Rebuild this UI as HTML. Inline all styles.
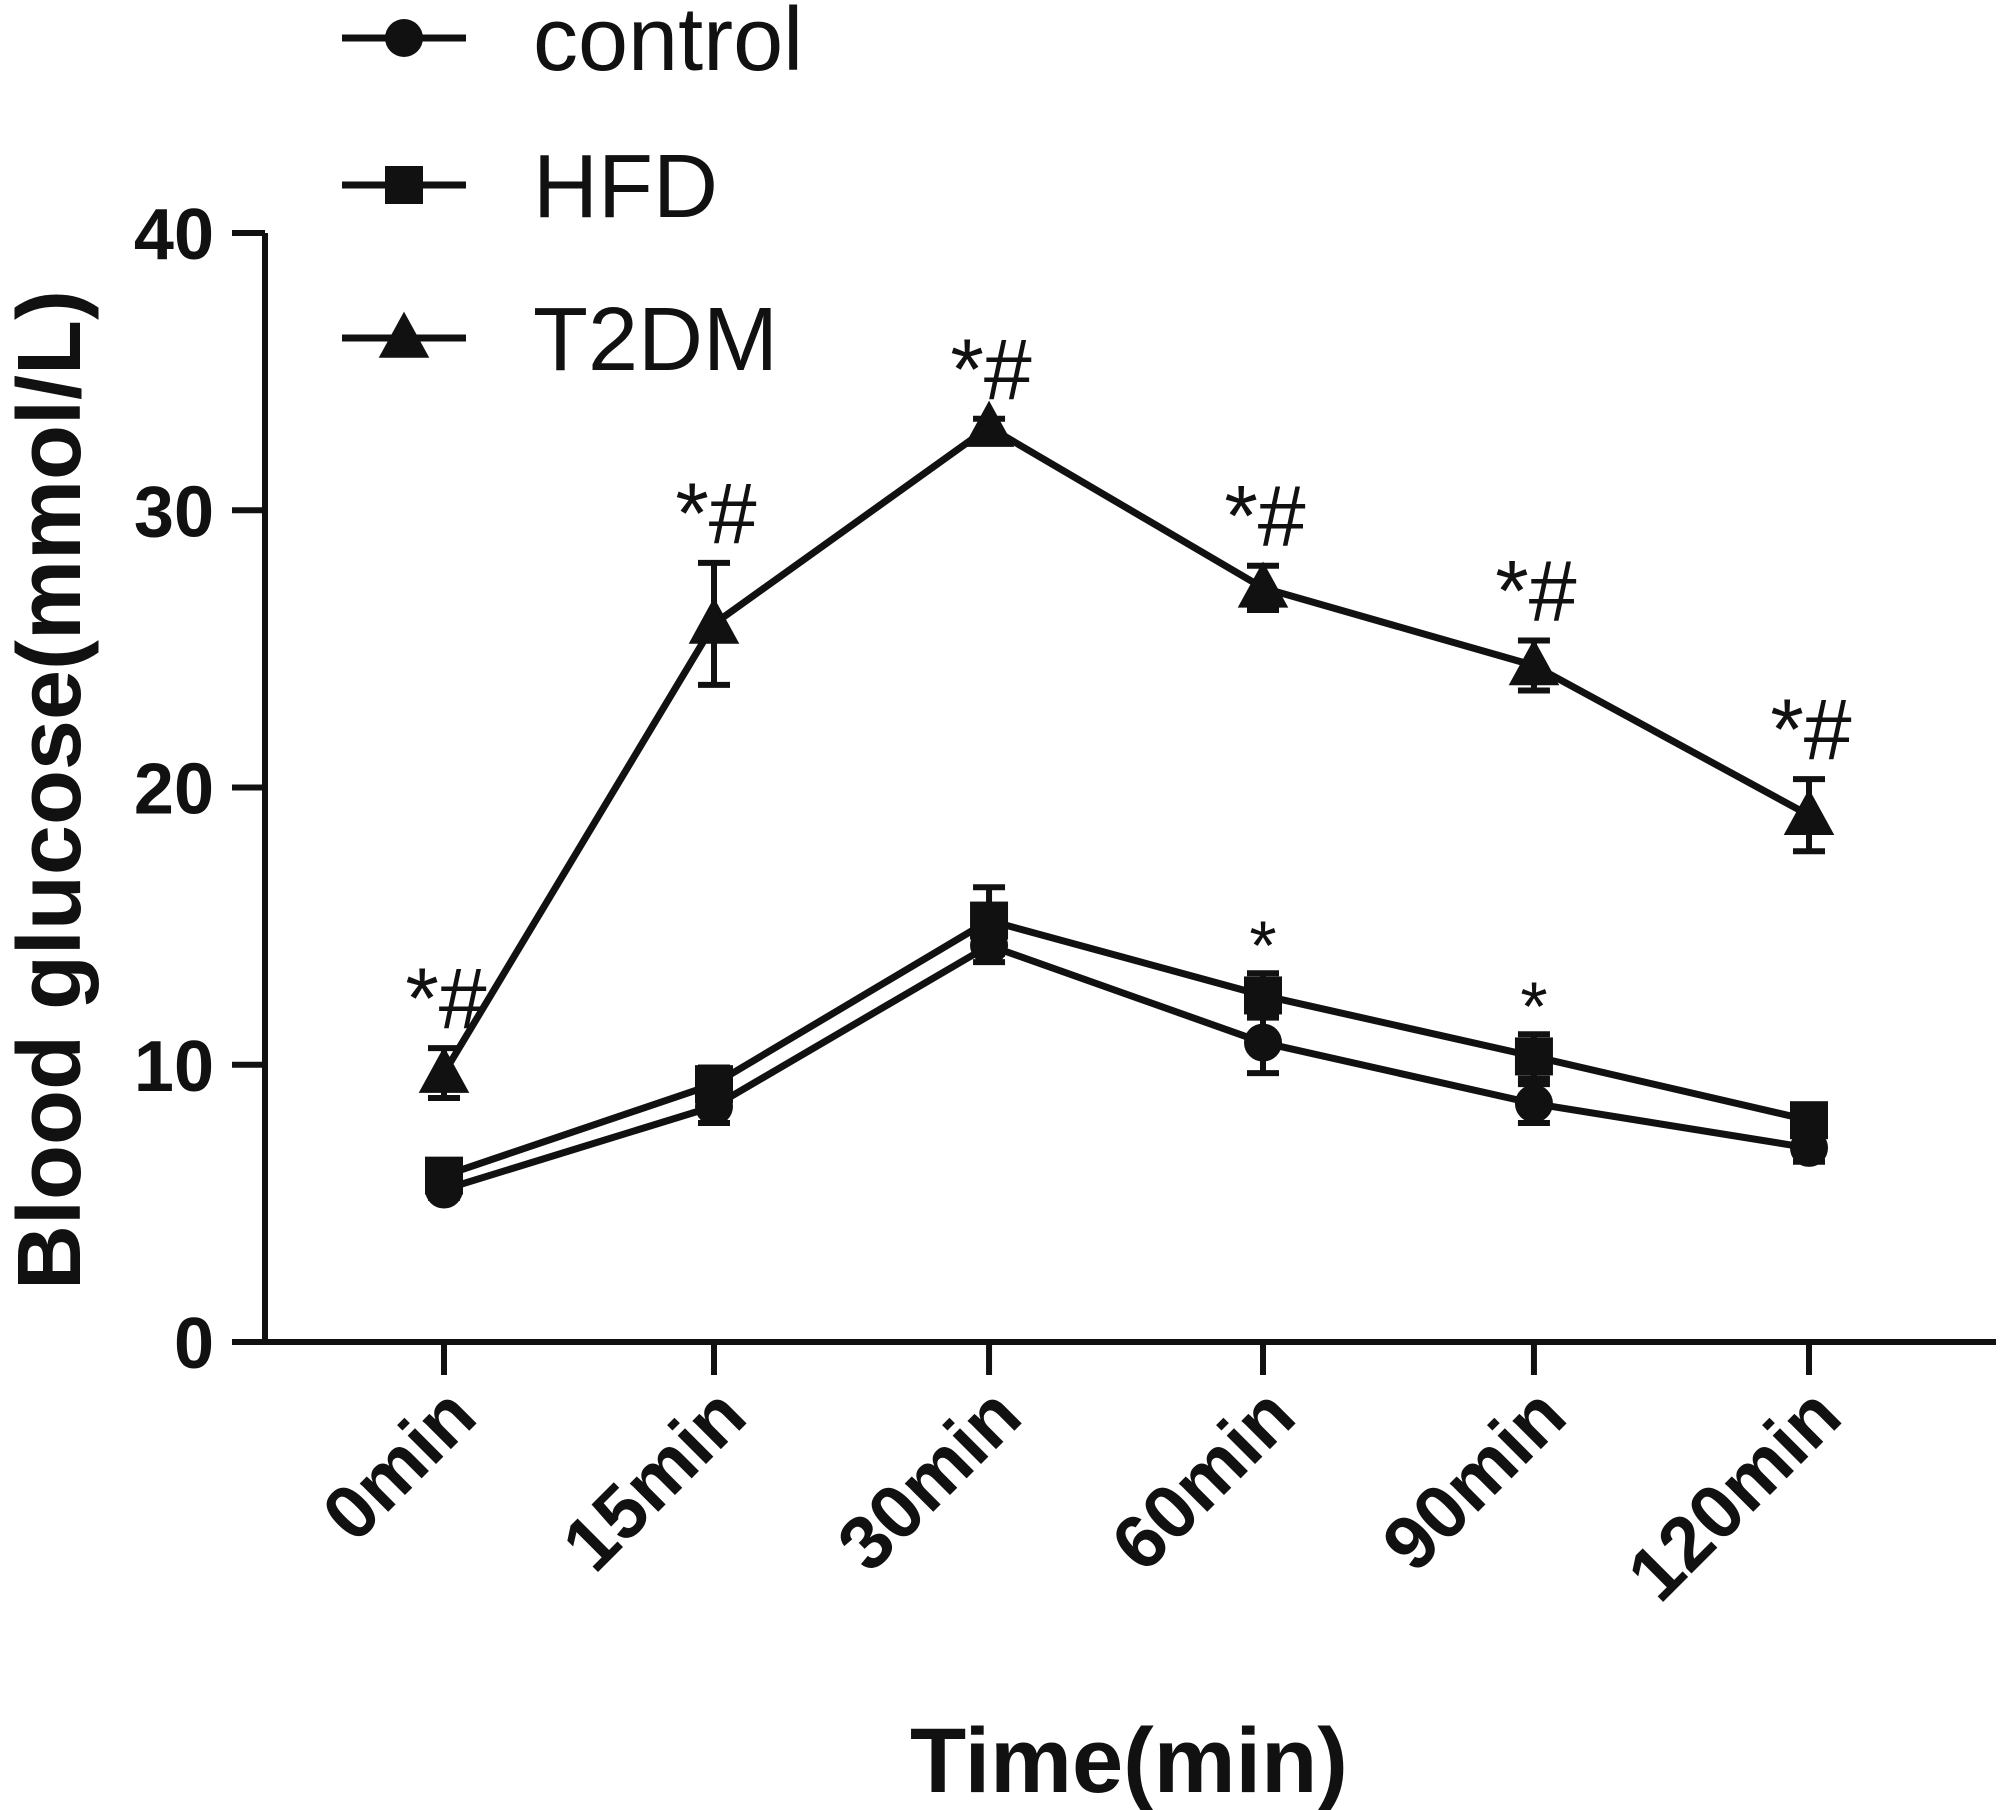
<!DOCTYPE html>
<html><head><meta charset="utf-8"><style>
html,body{margin:0;padding:0;background:#fff;}
svg{display:block;}
text{font-family:"Liberation Sans",Arial,sans-serif;fill:#111;}
</style></head><body>
<svg id="chart" width="2000" height="1810" viewBox="0 0 2000 1810" xmlns="http://www.w3.org/2000/svg">
<g id="axes"></g>
<g id="series"></g>
<g id="legend"></g>
<text x="1129" y="1792" font-size="92" font-weight="bold" text-anchor="middle">Time(min)</text>
<text transform="translate(80,790) rotate(-90)" font-size="90" font-weight="bold" text-anchor="middle">Blood glucose(mmol/L)</text>
</svg>
<script>
const categories=["0min","15min","30min","60min","90min","120min"];
const yTicks=[0,10,20,30,40];
const controlVals=[5.5,8.5,14.3,10.8,8.6,7.0];
const controlErr=[0.3,0.6,0.6,1.1,0.7,0.5];
const hfdVals=[6.0,9.3,15.2,12.5,10.3,8.0];
const hfdErr=[0.3,0.6,1.2,0.8,0.8,0.5];
const t2dmVals=[9.7,25.9,33.0,27.2,24.4,19.0];
const t2dmErr=[0.9,2.2,0.3,0.8,0.9,1.3];
const t2dmMarks=["*#","*#","*#","*#","*#","*#"];
const hfdMarks=["","","","*","*",""];

const NS="http://www.w3.org/2000/svg";
function xs(i){return 444+(1809-444)*[0,0.1978,0.3993,0.6,0.7985,1][i];}
function y(v){return 1342-v*(1342-233)/40;}
function mk(tag,attrs,parent){const e=document.createElementNS(NS,tag);for(const k in attrs)e.setAttribute(k,attrs[k]);parent.appendChild(e);return e;}
const axes=document.getElementById('axes');
const ser=document.getElementById('series');
const leg=document.getElementById('legend');

let e=mk('line',{x1:265,y1:y(40),x2:265,y2:1344,stroke:'#111','stroke-width':6},axes);


e=mk('line',{x1:232,y1:1342,x2:1996,y2:1342,stroke:'#111','stroke-width':6},axes);


yTicks.forEach(t=>{
  let l=mk('line',{x1:232,y1:y(t),x2:265,y2:y(t),stroke:'#111','stroke-width':6},axes);
  
  
  let tx=mk('text',{x:214,y:y(t)+26,'font-size':72,'font-weight':'bold','text-anchor':'end'},axes);
  tx.textContent=t;
  
  
});
categories.forEach((c,i)=>{
  const X=xs(i);
  let l=mk('line',{x1:X,y1:1342,x2:X,y2:1375,stroke:'#111','stroke-width':6},axes);
  
  
  let tx=mk('text',{x:X+36,y:1420,'font-size':76,'font-weight':'bold','text-anchor':'end',transform:`rotate(-45 ${X+36} 1420)`},axes);
  tx.textContent=c;
  
  
});

function marker(type,cx,cy,p,s){
  let m;
  if(type==='circle')m=mk('circle',{cx:cx,cy:cy,r:s,fill:'#111'},p);
  else if(type==='square')m=mk('rect',{x:cx-s,y:cy-s,width:2*s,height:2*s,fill:'#111'},p);
  else m=mk('polygon',{points:`${cx},${cy-s*1.2} ${cx-s*1.15},${cy+s*0.9} ${cx+s*1.15},${cy+s*0.9}`,fill:'#111'},p);
  return m;
}
function drawSeries(name,vals,err,type){
  const g=mk('g',{},ser);
  
  
  const pts=vals.map((v,i)=>xs(i)+','+y(v)).join(' ');
  const pl=mk('polyline',{points:pts,fill:'none',stroke:'#111','stroke-width':7},g);
  
  
  vals.forEach((v,i)=>{
    const X=xs(i),hi=y(v+err[i]),lo=y(v-err[i]);
    const eb=mk('path',{d:`M${X},${hi}V${lo}M${X-16},${hi}H${X+16}M${X-16},${lo}H${X+16}`,stroke:'#111','stroke-width':6,fill:'none'},g);
    
    
    const m=marker(type,X,y(v),g,type==='triangle'?22:19);
    
    
  });
}
drawSeries('control',controlVals,controlErr,'circle');
drawSeries('hfd',hfdVals,hfdErr,'square');
drawSeries('t2dm',t2dmVals,t2dmErr,'triangle');

t2dmMarks.forEach((s,i)=>{
  if(!s)return;
  const t=mk('text',{x:xs(i)+2,y:y(t2dmVals[i]+t2dmErr[i])-20,'font-size':86,'text-anchor':'middle'},ser);
  t.textContent=s;
  
  
});
hfdMarks.forEach((s,i)=>{
  if(!s)return;
  const t=mk('text',{x:xs(i),y:y(hfdVals[i]+hfdErr[i])-4,'font-size':70,'text-anchor':'middle'},ser);
  t.textContent=s;
  
  
});

[['control','circle',38],['HFD','square',185],['T2DM','triangle',338]].forEach(([lab,type,ly])=>{
  const g=mk('g',{},leg);
  
  
  mk('line',{x1:342,y1:ly,x2:466,y2:ly,stroke:'#111','stroke-width':7},g);
  marker(type,404,ly,g,type==='triangle'?22:19);
  const t=mk('text',{x:533,y:ly+32,'font-size':90},g);
  t.textContent=lab;
});
</script>
</body></html>
